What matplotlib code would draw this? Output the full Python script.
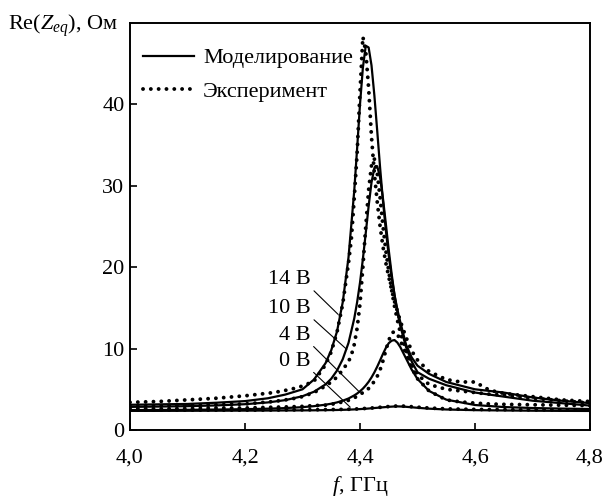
import matplotlib
matplotlib.use("Agg")
import matplotlib.pyplot as plt

# Частоты (ГГц) для расчётных кривых
freq_model = [4.00, 4.05, 4.10, 4.15, 4.20, 4.24, 4.27, 4.30, 4.32, 4.34,
              4.35, 4.36, 4.37, 4.38, 4.39, 4.395, 4.40, 4.405, 4.41, 4.415,
              4.42, 4.425, 4.43, 4.435, 4.44, 4.445, 4.45, 4.455, 4.46, 4.465,
              4.47, 4.48, 4.49, 4.50, 4.52, 4.55, 4.60, 4.65, 4.70, 4.75, 4.80]

model_14 = [3.1, 3.15, 3.2, 3.35, 3.55, 3.9, 4.35, 5.0, 6.2, 8.2,
            9.8, 12.1, 15.7, 21.2, 29.4, 34.6, 40.0, 44.5, 47.2, 47.0,
            44.8, 41.1, 36.7, 32.2, 28.1, 24.5, 21.4, 18.8, 16.6, 14.8,
            13.3, 10.5, 8.9, 7.9, 6.9, 5.9, 5.0, 4.6, 4.0, 3.6, 3.3]
model_10 = [2.84, 2.88, 2.93, 3.02, 3.17, 3.39, 3.67, 4.15, 4.7, 5.6,
            6.3, 7.3, 8.7, 10.7, 13.7, 15.7, 18.1, 21.0, 24.2, 27.5,
            30.4, 32.2, 32.4, 31.0, 28.4, 25.3, 22.1, 19.2, 16.6, 14.5,
            12.8, 10.2, 8.4, 7.1, 6.3, 5.5, 4.6, 4.1, 3.6, 3.3, 3.0]
model_4 = [2.45, 2.46, 2.48, 2.51, 2.56, 2.62, 2.69, 2.81, 2.93, 3.11,
           3.23, 3.39, 3.6, 3.87, 4.25, 4.48, 4.76, 5.08, 5.47, 5.92,
           6.46, 7.08, 7.79, 8.56, 9.36, 10.09, 10.67, 10.97, 11.05, 10.74,
           10.2, 8.8, 7.4, 6.27, 4.8, 3.73, 3.07, 2.82, 2.7, 2.63, 2.58]
model_0 = [2.35, 2.35, 2.36, 2.37, 2.38, 2.39, 2.40, 2.41, 2.42, 2.44,
           2.45, 2.46, 2.48, 2.50, 2.53, 2.55, 2.57, 2.59, 2.61, 2.64,
           2.67, 2.70, 2.73, 2.76, 2.79, 2.82, 2.85, 2.87, 2.89, 2.90,
           2.89, 2.85, 2.79, 2.73, 2.62, 2.52, 2.44, 2.40, 2.37, 2.35, 2.34]

# Частоты (ГГц) для экспериментальных кривых
freq_exp = [4.00, 4.05, 4.10, 4.15, 4.20, 4.25, 4.28, 4.30, 4.32, 4.34,
            4.35, 4.36, 4.37, 4.38, 4.385, 4.39, 4.395, 4.40, 4.405, 4.41,
            4.415, 4.42, 4.425, 4.43, 4.435, 4.44, 4.445, 4.45, 4.455, 4.46,
            4.465, 4.47, 4.48, 4.49, 4.50, 4.52, 4.55, 4.575, 4.60, 4.625,
            4.65, 4.70, 4.75, 4.80]

exp_14 = [3.4, 3.5, 3.7, 3.9, 4.2, 4.6, 5.0, 5.4, 6.0, 8.0,
          9.6, 12.0, 15.5, 20.5, 23.5, 28.5, 34.0, 41.5, 48.3, 46.5,
          42.0, 36.0, 31.5, 28.0, 25.0, 22.5, 20.5, 18.8, 17.2, 15.8,
          14.6, 13.4, 11.4, 9.7, 8.6, 7.2, 6.2, 5.9, 5.9, 4.9,
          4.5, 4.1, 3.7, 3.5]
exp_10 = [2.9, 2.95, 3.0, 3.1, 3.2, 3.5, 3.8, 4.1, 4.6, 5.4,
          5.9, 6.5, 7.4, 8.4, 9.2, 10.5, 12.5, 15.5, 20.0, 25.0,
          29.5, 32.5, 33.3, 31.5, 28.5, 25.0, 22.0, 19.5, 17.2, 15.2,
          13.5, 12.0, 9.8, 8.0, 6.8, 5.6, 5.0, 4.8, 4.6, 4.4,
          4.3, 3.9, 3.6, 3.3]
exp_4 = [2.6, 2.6, 2.65, 2.7, 2.7, 2.8, 2.85, 2.9, 3.0, 3.05,
         3.15, 3.3, 3.45, 3.65, 3.8, 3.95, 4.15, 4.35, 4.6, 4.8,
         5.1, 5.5, 6.0, 6.6, 7.4, 8.5, 9.8, 11.0, 11.9, 12.1,
         11.8, 11.0, 9.4, 7.6, 6.3, 4.8, 3.7, 3.45, 3.3, 3.2,
         3.15, 3.1, 3.05, 3.0]
exp_0 = [2.45, 2.45, 2.45, 2.45, 2.45, 2.46, 2.47, 2.48, 2.49, 2.50,
         2.51, 2.52, 2.53, 2.55, 2.56, 2.57, 2.59, 2.61, 2.63, 2.65,
         2.67, 2.70, 2.73, 2.76, 2.79, 2.82, 2.85, 2.88, 2.91, 2.93,
         2.95, 2.95, 2.92, 2.86, 2.80, 2.70, 2.60, 2.56, 2.53, 2.51,
         2.50, 2.48, 2.47, 2.46]

# Подписи напряжений: текст, точка на кривой, положение текста
voltage_labels = ["14 В", "10 В", "4 В", "0 В"]
label_points = [(4.362, 14.2), (4.377, 9.9), (4.400, 4.6), (4.383, 2.8)]
label_text_pos = [(4.278, 18.5), (4.278, 14.9), (4.287, 11.6), (4.287, 8.4)]

plt.rcParams["font.family"] = ["Liberation Serif", "DejaVu Serif"]
plt.rcParams["mathtext.fontset"] = "custom"
plt.rcParams["mathtext.rm"] = "Liberation Serif"
plt.rcParams["mathtext.it"] = "Liberation Serif:italic"
plt.rcParams["font.size"] = 16

fig = plt.figure(figsize=(6.09, 5.01), dpi=100)
ax = fig.add_axes([130 / 609, 1 - 430 / 501, 460 / 609, 407 / 501])

dot_style = dict(color="black", lw=2.8, linestyle=(0, (0.01, 2.0)),
                 dash_capstyle="round")
for i, y in enumerate([model_14, model_10, model_4, model_0]):
    ax.plot(freq_model, y, color="black", lw=1.6,
            label="Моделирование" if i == 0 else None)
for i, y in enumerate([exp_14, exp_10, exp_4, exp_0]):
    ax.plot(freq_exp, y, label="Эксперимент" if i == 0 else None, **dot_style)

for txt, pt, tp in zip(voltage_labels, label_points, label_text_pos):
    ax.annotate(txt, xy=pt, xytext=tp, ha="center", va="center",
                arrowprops=dict(arrowstyle="-", lw=0.8, color="black",
                                relpos=(0.95, 0.15), shrinkA=0, shrinkB=0))

ax.set_xlim(4.0, 4.8)
ax.set_ylim(0, 50)
ax.set_xticks([4.0, 4.2, 4.4, 4.6, 4.8])
ax.set_xticklabels(["4,0", "4,2", "4,4", "4,6", "4,8"])
ax.set_yticks([0, 10, 20, 30, 40])
ax.tick_params(direction="in", length=5, width=1.2)
ax.tick_params(axis="x", pad=13)
ax.tick_params(axis="y", pad=4)
for s in ax.spines.values():
    s.set_linewidth(1.4)

ax.set_xlabel("$f$, ГГц", labelpad=5)
fig.text(8 / 609, 1 - 30 / 501, r"Re($Z_{eq}$), Ом", ha="left", va="baseline")

leg = ax.legend(loc="upper left", bbox_to_anchor=(0.009, 0.961), frameon=False,
                handlelength=2.3, handletextpad=0.4, labelspacing=0.57,
                borderaxespad=0.0)

fig.savefig("out.png", dpi=100)
